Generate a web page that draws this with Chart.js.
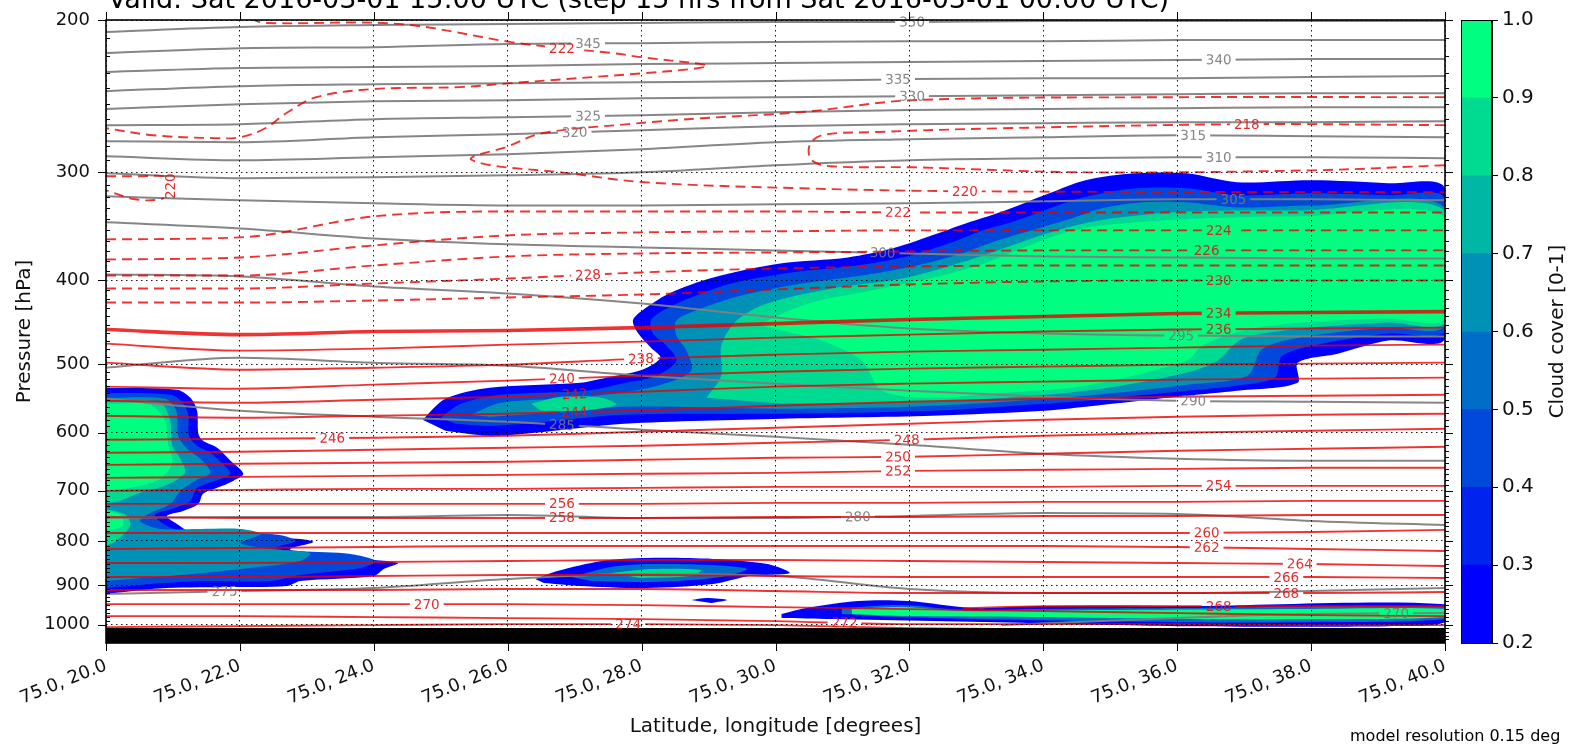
<!DOCTYPE html>
<html>
<head>
<meta charset="utf-8">
<script src="https://cdn.jsdelivr.net/npm/chart.js@4.4.1/dist/chart.umd.min.js"></script>
<style>
  body { margin: 0; background: #fff; overflow: hidden; }
  #wrap { position: relative; width: 1571px; height: 746px; }
  #main { position: absolute; left: 0; top: 0; }
  #cbar { position: absolute; left: 1461px; top: 0; }
</style>
</head>
<body>
<div id="wrap">
  <canvas id="main" width="1571" height="746"></canvas>
  <canvas id="cbar" width="110" height="746"></canvas>
</div>
<script>
// ---- axes ----
const lonStations = [20, 22, 24, 26, 28, 30, 32, 34, 36, 38, 40];
const lonTicks = [20, 22, 24, 26, 28, 30, 32, 34, 36, 38, 40];
const pTicks = [200, 300, 400, 500, 600, 700, 800, 900, 1000];
const cbTicks = [0.2, 0.3, 0.4, 0.5, 0.6, 0.7, 0.8, 0.9, 1.0];
const cbColors = ['rgb(0,0,255)', 'rgb(0,36,237)', 'rgb(0,73,219)', 'rgb(0,109,200)',
                  'rgb(0,146,182)', 'rgb(0,182,164)', 'rgb(0,219,146)', 'rgb(0,255,128)'];

// ---- potential temperature (grey), pressure at each station ----
const thetaLevels = [350, 345, 340, 335, 330, 325, 320, 315, 310, 305, 300, 295, 290, 285, 280, 275];
const thetaPressure = [
  [206.5, 203.8, 202.7, 202.1, 201.6, 201.1, 201.1, 200.5, 200.5, 200.5, 200.5],
  [218.4, 215.6, 215.0, 213.2, 212.7, 212.1, 211.6, 211.6, 211.0, 211.0, 211.0],
  [229.7, 227.3, 226.7, 226.1, 224.9, 224.3, 223.7, 223.1, 222.5, 221.9, 221.9],
  [241.7, 238.5, 237.3, 236.6, 236.0, 235.3, 234.1, 233.5, 233.5, 232.8, 232.2],
  [253.5, 250.2, 248.3, 247.6, 246.3, 245.6, 245.0, 244.3, 243.7, 243.0, 243.0],
  [264.6, 263.9, 260.4, 259.1, 257.7, 255.6, 254.2, 253.5, 252.9, 252.2, 252.2],
  [276.1, 276.9, 273.2, 271.1, 268.2, 265.3, 263.9, 263.2, 262.5, 262.5, 261.8],
  [287.5, 290.5, 288.2, 285.9, 282.1, 276.9, 274.7, 273.2, 271.8, 272.5, 273.2],
  [300.8, 304.8, 304.0, 302.4, 300.0, 294.4, 290.5, 289.0, 288.2, 288.2, 289.0],
  [319.8, 323.2, 325.8, 327.6, 327.6, 326.7, 325.8, 324.1, 322.3, 322.3, 323.2],
  [342.7, 348.3, 357.7, 363.4, 366.4, 369.3, 372.3, 375.3, 376.3, 377.3, 377.3],
  [393.7, 395.8, 406.5, 414.2, 425.4, 441.6, 454.7, 460.8, 463.3, 464.5, 464.5],
  [504.6, 491.3, 497.9, 501.9, 515.4, 526.5, 536.5, 545.2, 551.0, 552.5, 553.9],
  [548.1, 565.8, 574.9, 582.7, 595.2, 606.5, 619.6, 634.6, 643.1, 646.5, 646.5],
  [752.7, 750.7, 750.7, 746.7, 752.7, 752.7, 748.7, 742.7, 744.7, 758.7, 766.9],
  [921.8, 914.4, 907.2, 885.7, 874.0, 878.6, 909.6, 919.3, 919.3, 914.4, 907.2]
];
const thetaLabelLon = [32.04, 27.2, 36.62, 31.83, 32.04, 27.2, 27.0, 36.24, 36.62, 36.84, 31.6, 36.06, 36.24, 26.81, 31.23, 21.77];
const theta270 = [[33.38, 1001.2], [34.88, 990.6], [36.38, 980.1], [37.87, 972.3], [40, 969.7]];
const theta270Label = [39.27, 971.5];

// ---- temperature (red), pressure at each station ----
const tempLevels = [222, 224, 226, 228, 230, 234, 236, 238, 240, 242, 244, 246, 248, 250, 252, 254, 256, 258, 260, 262, 264, 266, 268, 270, 272, 274];
const tempPressure = [
  [358.6, 356.7, 337.3, 332.9, 332.9, 332.9, 333.8, 333.8, 333.8, 333.8, 333.8],
  [378.3, 376.3, 364.4, 354.8, 352.0, 351.0, 350.1, 350.1, 350.1, 350.1, 350.1],
  [394.8, 394.8, 384.4, 375.3, 372.3, 371.3, 370.3, 369.3, 369.3, 369.3, 369.3],
  [408.7, 408.7, 403.3, 398.0, 391.6, 387.5, 385.4, 384.4, 384.4, 384.4, 384.4],
  [424.3, 424.3, 422.0, 418.6, 415.3, 409.8, 404.3, 401.1, 400.1, 400.1, 400.1],
  [455.9, 462.1, 458.3, 457.1, 453.5, 448.7, 443.9, 440.4, 436.9, 435.7, 434.6],
  [473.3, 482.2, 479.6, 474.5, 470.8, 465.8, 462.1, 458.3, 455.9, 454.7, 453.5],
  [497.9, 507.3, 504.6, 500.5, 492.6, 487.4, 483.5, 481.0, 478.3, 475.8, 474.5],
  [530.7, 533.6, 527.9, 522.3, 515.4, 510.0, 505.9, 503.2, 500.5, 499.2, 497.9],
  [551.0, 553.9, 549.5, 545.2, 538.0, 530.7, 526.5, 523.7, 520.9, 519.5, 518.1],
  [573.4, 576.5, 573.4, 570.3, 565.8, 558.3, 552.5, 548.1, 545.2, 543.7, 542.3],
  [611.4, 609.7, 608.1, 604.9, 598.4, 592.1, 585.8, 579.6, 574.9, 571.9, 570.3],
  [632.9, 631.2, 627.8, 624.5, 621.2, 616.3, 611.4, 604.9, 600.0, 596.8, 593.6],
  [653.5, 651.7, 650.0, 648.2, 644.8, 641.4, 639.7, 634.6, 629.5, 626.2, 622.9],
  [676.5, 674.7, 672.9, 671.1, 669.3, 667.6, 664.0, 662.2, 660.5, 658.7, 658.7],
  [700.4, 698.5, 696.7, 696.7, 694.8, 692.9, 692.9, 692.9, 691.1, 691.1, 691.1],
  [725.1, 725.1, 725.1, 725.1, 725.1, 723.2, 723.2, 721.2, 721.2, 719.3, 719.3],
  [750.7, 752.7, 752.7, 752.7, 752.7, 750.7, 750.7, 748.7, 748.7, 746.7, 746.7],
  [783.4, 783.4, 783.4, 783.4, 783.4, 783.4, 783.4, 783.4, 783.4, 781.3, 777.1],
  [817.5, 815.3, 813.2, 811.0, 811.0, 811.0, 811.0, 811.0, 813.2, 817.5, 821.9],
  [848.7, 848.7, 846.4, 844.1, 841.9, 841.9, 844.1, 846.4, 848.7, 851.0, 855.5],
  [881.0, 881.0, 878.6, 876.3, 876.3, 878.6, 881.0, 881.0, 881.0, 881.0, 883.3],
  [912.0, 912.0, 912.0, 909.6, 909.6, 914.4, 919.3, 919.3, 919.3, 919.3, 916.8],
  [946.8, 946.8, 946.8, 946.8, 949.3, 954.3, 959.4, 964.5, 969.7, 974.9, 977.5],
  [977.5, 977.5, 980.1, 982.7, 985.3, 990.6, 998.6, 998.6, 998.6, 1001.2, 1001.2],
  [1006.6, 1003.9, 1001.2, 998.6, 998.6, 1001.2, 1009.3, 1012.0, 1014.7, 1017.4, 1017.4]
];
const tempLabelLon = [31.83, 36.62, 36.44, 27.2, 36.62, 36.62, 36.62, 27.99, 26.81, 27.0, 27.0, 23.38, 31.96,
                      31.83, 31.83, 36.62, 26.81, 26.81, 36.44, 36.44, 37.83, 37.63, 37.63, 24.79, 31.03, 27.8];

// upper isotherms that fold back on themselves: [lon, p]
const temp218 = [[40, 264.6], [37.04, 263.9], [33.38, 266.8], [31.44, 269.6], [30.69, 271.8], [30.51, 279.1],
  [30.54, 290.5], [30.84, 295.2], [32.05, 296.0], [34.63, 300.0], [38.02, 298.4], [40, 294.4]];
const temp220 = [[40, 245.6], [36.14, 245.6], [32.05, 247.6], [30.39, 255.6], [28.89, 259.8], [27.80, 263.9],
  [26.51, 270.4], [25.97, 280.6], [25.45, 289.0], [25.75, 294.4], [26.80, 300.0], [28.04, 308.0],
  [30.39, 313.0], [32.83, 315.5], [40, 316.4]];
const temp220b = [[20, 303.2], [20.51, 303.2], [20.88, 303.2], [20.97, 308.0], [20.97, 316.4], [20.81, 322.3],
  [20.43, 322.3], [20, 314.7]];
const temp222 = [[22.16, 199.5], [22.38, 201.6], [24.37, 202.1], [26.05, 212.1], [26.81, 215.6], [27.57, 218.4],
  [27.99, 220.8], [28.89, 224.9], [28.98, 226.1], [28.74, 227.9], [28.04, 230.4], [26.05, 236.6],
  [25.28, 239.1], [23.98, 240.4], [23.14, 245.6], [22.69, 256.3], [22.38, 266.8], [22.01, 273.2],
  [21.62, 273.9], [20.70, 271.8], [20, 266.8]];
const temp268b = [[32.8, 956.9], [34.0, 951.8], [36.0, 951.8], [38.0, 951.8], [40.0, 951.8]];
const foldLevels = [218, 220, 220, 222, 268];
const foldLabels = [[37.04, 263.9], [32.83, 315.5], [20.97, 311.3], [26.81, 215.6], [36.62, 951.8]];

// ---- cloud cover areas [lon, p], level = lower bound of the band ----
const bigCloud20 = [[24.73, 579.6], [25.07, 548.1], [25.73, 532.2], [27.08, 525.1], [27.47, 518.2], [28.01, 507.3],
  [28.28, 491.3], [28.14, 478.4], [27.95, 460.8], [27.87, 445.1], [28.01, 433.4], [28.41, 414.2], [29.07, 396.9],
  [30.07, 382.4], [31.08, 376.3], [31.75, 367.3], [32.43, 352.9], [32.75, 345.5], [33.43, 332.0], [34.09, 317.2],
  [34.63, 306.4], [35.37, 300.8], [36.14, 300.8], [36.89, 308.0], [38.02, 306.4], [39.15, 308.8], [40, 313.0],
  [40, 467.0], [39.15, 469.5], [38.40, 486.1], [37.80, 497.9], [37.80, 525.1], [36.89, 536.5], [36.14, 543.7],
  [34.63, 559.8], [34.01, 565.8], [32.35, 573.4], [30.09, 578.0], [27.74, 585.8], [26.41, 600.0], [25.73, 604.9],
  [25.07, 596.8]];
const bigCloud40 = [[25.0, 576.5], [25.30, 555.4], [25.90, 542.3], [27.17, 536.5], [27.69, 526.5], [28.22, 515.4],
  [28.52, 495.2], [28.37, 475.8], [28.17, 460.8], [28.14, 445.1], [28.32, 433.4], [28.74, 418.6], [29.34, 403.3],
  [30.24, 391.6], [31.21, 384.4], [31.96, 375.3], [32.63, 361.5], [33.01, 352.0], [33.61, 340.9], [34.21, 327.6],
  [34.73, 318.9], [35.40, 313.0], [36.14, 313.0], [36.89, 318.9], [38.02, 317.2], [39.15, 318.9], [40, 321.5],
  [40, 457.1], [39.15, 460.8], [38.17, 473.3], [37.57, 488.7], [37.46, 518.1], [36.89, 529.3], [36.14, 536.5],
  [34.63, 551.0], [34.01, 555.4], [32.35, 565.8], [30.09, 570.3], [27.74, 571.9], [26.41, 584.2], [25.73, 588.9],
  [25.22, 585.8]];
const bigCloud60 = [[25.45, 571.9], [25.90, 553.9], [26.80, 548.1], [27.69, 539.4], [28.29, 527.9], [28.74, 508.6],
  [28.67, 482.2], [28.52, 463.3], [28.52, 445.1], [28.89, 431.1], [29.49, 416.4], [30.39, 403.3], [31.29, 394.8],
  [32.11, 384.4], [32.78, 372.3], [33.23, 361.5], [33.83, 350.1], [34.43, 339.1], [34.88, 330.2], [35.48, 324.9],
  [36.14, 324.9], [36.89, 329.4], [38.02, 327.6], [40, 329.4], [40, 451.1], [39.15, 453.5], [38.02, 463.3],
  [37.28, 479.6], [37.05, 515.4], [36.14, 527.9], [34.63, 543.7], [32.35, 558.3], [30.09, 562.8], [27.74, 559.8],
  [26.41, 570.3], [25.73, 574.9]];
const bigCloud80 = [[28.97, 546.6], [29.19, 515.4], [29.19, 475.8], [29.42, 445.1], [29.87, 425.4], [30.84, 408.7],
  [31.89, 398.0], [32.63, 384.4], [33.23, 371.3], [33.83, 357.7], [34.43, 346.4], [35.03, 339.1], [36.14, 332.9],
  [37.87, 332.0], [40, 332.0], [40, 447.5], [39.15, 447.5], [37.87, 454.7], [36.98, 467.0], [36.60, 495.2],
  [36.14, 511.3], [34.63, 536.5], [32.35, 552.5], [30.09, 555.4]];
const bigCloud90 = [[29.79, 451.1], [29.94, 442.7], [30.54, 424.3], [31.44, 410.9], [32.49, 394.8], [33.16, 381.3],
  [33.68, 367.3], [34.28, 353.0], [34.88, 345.5], [36.14, 339.9], [37.87, 337.3], [40, 338.2], [40, 442.7],
  [39.15, 442.7], [37.87, 447.5], [36.98, 457.1], [36.38, 475.8], [36.14, 495.2], [34.63, 529.3], [33.38, 539.4],
  [32.35, 546.6], [31.59, 536.5], [31.29, 495.2], [30.69, 469.5], [30.09, 457.1]];
const tongueCloud80 = [[26.35, 555.4], [26.80, 545.2], [27.40, 546.6], [27.62, 556.8], [27.10, 565.8], [26.50, 565.8]];
const leftCloud20 = [[20, 532.2], [21.06, 535.0], [21.26, 546.6], [21.36, 565.8], [21.38, 601.6], [21.45, 613.0],
  [21.66, 624.5], [21.86, 646.5], [22.05, 669.3], [21.90, 682.0], [21.66, 694.8], [21.45, 706.0], [21.38, 725.1],
  [21.15, 738.8], [20.91, 748.7], [21.06, 764.8], [21.36, 789.7], [21.90, 793.9], [22.41, 793.9], [22.90, 796.0],
  [23.10, 802.5], [22.75, 817.5], [22.90, 826.3], [23.65, 837.4], [24.36, 848.7], [24.15, 862.3], [24.0, 878.6],
  [22.90, 890.4], [22.71, 902.3], [21.90, 904.7], [20.91, 907.2], [20.40, 914.4], [20, 921.8]];
const leftCloud40 = [[20, 539.4], [20.96, 542.3], [21.15, 553.9], [21.23, 573.4], [21.24, 604.9], [21.36, 621.2],
  [21.56, 632.9], [21.74, 651.7], [21.86, 669.3], [21.63, 682.0], [21.36, 694.8], [21.26, 719.3], [21.03, 732.9],
  [20.73, 746.7], [20.91, 768.9], [21.26, 783.4], [22.01, 783.4], [22.60, 787.6], [22.83, 800.3], [22.53, 815.3],
  [22.90, 821.9], [23.65, 828.5], [24.03, 844.1], [23.80, 860.0], [22.90, 876.3], [22.46, 890.4], [21.41, 890.4],
  [20.66, 897.5], [20, 907.2]];
const leftCloud60 = [[20, 546.6], [20.88, 548.1], [21.05, 565.8], [21.08, 604.9], [21.21, 626.2], [21.41, 643.1],
  [21.56, 667.6], [21.33, 682.0], [21.11, 700.4], [20.96, 725.1], [20.66, 742.7], [20.51, 758.7], [20.81, 775.0],
  [21.41, 775.0], [22.01, 775.0], [22.31, 785.5], [22.01, 804.6], [22.46, 817.5], [23.05, 826.3], [22.90, 844.1],
  [22.01, 862.3], [21.11, 876.3], [20.36, 885.7], [20, 890.4]];
const leftCloud80 = [[20, 551.0], [20.81, 553.9], [20.96, 581.1], [20.99, 621.2], [21.11, 643.1], [21.18, 667.6],
  [20.88, 691.1], [20.51, 704.1], [20.21, 719.3], [20, 723.2]];
const leftCloud80b = [[20, 734.9], [20.30, 746.7], [20.36, 768.9], [20.15, 800.3], [20, 811.0]];
const leftCloud90 = [[20, 555.4], [20.66, 556.8], [20.88, 581.1], [20.93, 621.2], [20.99, 650.0], [20.81, 678.4],
  [20.36, 694.8], [20, 700.4]];
const leftCloud90b = [[20, 738.8], [20.22, 746.7], [20.25, 768.9], [20, 779.2]];
const midCloud20 = [[26.41, 885.7], [26.74, 866.9], [27.41, 844.1], [28.08, 837.4], [29.07, 839.6], [29.88, 851.0],
  [30.21, 871.6], [29.61, 878.6], [29.07, 897.5], [28.08, 907.2], [27.08, 902.3], [26.54, 895.2]];
const midCloud50 = [[26.95, 881.0], [27.54, 857.7], [28.14, 851.0], [29.04, 853.2], [29.57, 862.3], [29.19, 881.0],
  [28.14, 892.8], [27.25, 890.4]];
const midCloud80 = [[27.54, 871.6], [28.14, 862.3], [28.89, 864.6], [28.74, 878.6], [27.99, 883.3]];
const blobCloud20 = [[28.74, 936.7], [28.97, 931.7], [29.28, 936.7], [29.04, 944.2]];
const lowCloud20 = [[30.09, 972.3], [30.46, 956.9], [31.23, 939.2], [31.98, 939.2], [32.96, 956.9], [33.86, 951.8],
  [36.14, 951.8], [40, 946.8], [40, 993.3], [39.15, 1003.9], [36.14, 1003.9], [33.86, 995.9], [32.35, 990.6],
  [30.84, 985.3], [30.09, 982.7]];
const lowCloud50 = [[30.99, 956.9], [31.89, 949.3], [32.78, 962.0], [33.86, 959.4], [36.14, 956.9], [40, 954.3],
  [40, 985.3], [37.87, 993.3], [36.14, 993.3], [33.86, 988.0], [31.89, 980.1], [30.99, 972.3]];
const lowCloud90 = [[31.14, 959.4], [31.89, 954.3], [32.78, 964.5], [34.88, 962.0], [37.87, 959.4], [40, 959.4],
  [40, 980.1], [37.87, 985.3], [36.14, 985.3], [33.86, 980.1], [31.89, 977.5], [31.14, 972.3]];
const cloudLayers = [
  [0.2, bigCloud20], [0.4, bigCloud40], [0.6, bigCloud60], [0.8, bigCloud80], [0.9, bigCloud90], [0.8, tongueCloud80],
  [0.2, leftCloud20], [0.4, leftCloud40], [0.6, leftCloud60], [0.8, leftCloud80], [0.8, leftCloud80b],
  [0.9, leftCloud90], [0.9, leftCloud90b],
  [0.2, midCloud20], [0.5, midCloud50], [0.8, midCloud80], [0.2, blobCloud20],
  [0.2, lowCloud20], [0.5, lowCloud50], [0.9, lowCloud90]
];
const groundShape = [[20, 1009], [40, 1009], [40, 1050], [20, 1050]];

const titleText = 'Valid: Sat 2016-03-01 15:00 UTC (step 15 hrs from Sat 2016-03-01 00:00 UTC)';
const footText = 'model resolution 0.15 deg';

// ---- helpers ----
const FONT = 'DejaVu Sans';
const labelFont = '13.5px "DejaVu Sans"';
const redLine = 'rgba(235,0,0,0.8)';
const redText = 'rgba(225,20,20,0.9)';
const greyLine = 'rgba(128,128,128,0.95)';
const greyText = 'rgba(120,120,120,0.9)';

Chart.defaults.font.family = FONT;
Chart.defaults.color = '#111';

function pts(pairs) { return pairs.map(q => ({x: q[0], y: q[1]})); }
function stationPts(pr) { return pr.map((p, i) => ({x: lonStations[i], y: p})); }
function pAt(pr, lon) {
  const i = Math.max(0, Math.min(9, Math.floor((lon - 20) / 2)));
  const t = (lon - lonStations[i]) / 2;
  return Math.exp(Math.log(pr[i]) * (1 - t) + Math.log(pr[i + 1]) * t);
}
function cloudColor(level) { return cbColors[Math.round((level - 0.2) * 10)]; }

function contour(points, color, width, dash, label, mono) {
  return {
    data: points, showLine: true, pointRadius: 0, fill: false,
    borderColor: color, borderWidth: width, borderDash: dash,
    tension: mono ? 0 : 0.35, cubicInterpolationMode: mono ? 'monotone' : 'default',
    contourLabel: label
  };
}

const datasets = [];
cloudLayers.forEach(([lev, shape]) => datasets.push({
  data: pts(shape), showLine: true, pointRadius: 0, fill: 'shape', tension: 0.3,
  backgroundColor: cloudColor(lev), borderColor: 'transparent', borderWidth: 0
}));
thetaLevels.forEach((lev, i) => {
  const pr = thetaPressure[i];
  datasets.push(contour(stationPts(pr), greyLine, 2, [],
    {text: String(lev), lon: thetaLabelLon[i], p: pAt(pr, thetaLabelLon[i]), series: pr, color: greyText}, true));
});
datasets.push(contour(pts(theta270), greyLine, 2, [],
  {text: '270', lon: theta270Label[0], p: theta270Label[1], color: greyText}, false));
tempLevels.forEach((lev, i) => {
  const pr = tempPressure[i];
  datasets.push(contour(stationPts(pr), redLine, lev === 234 ? 3.6 : 1.9, lev <= 230 ? [10, 6] : [],
    {text: String(lev), lon: tempLabelLon[i], p: pAt(pr, tempLabelLon[i]), series: pr, color: redText}, true));
});
[temp218, temp220, temp220b, temp222, temp268b].forEach((line, i) => {
  const lev = foldLevels[i];
  datasets.push(contour(pts(line), redLine, 1.9, lev <= 230 ? [10, 6] : [],
    {text: String(lev), lon: foldLabels[i][0], p: foldLabels[i][1], rot: line === temp220b ? -Math.PI / 2 : 0, color: redText}, false));
});
datasets.push({
  data: pts(groundShape), showLine: true, pointRadius: 0, fill: 'shape', tension: 0,
  backgroundColor: '#000', borderColor: 'transparent', borderWidth: 0
});
// first entry drawn at the bottom
datasets.forEach((d, i) => { d.order = datasets.length - i; });

function labelGeom(chart, lab) {
  const xs = chart.scales.x, ys = chart.scales.y, ctx = chart.ctx;
  const cx = xs.getPixelForValue(lab.lon), cy = ys.getPixelForValue(lab.p);
  let rot = lab.rot || 0;
  if (lab.series) {
    const x1 = xs.getPixelForValue(lab.lon - 0.3), x2 = xs.getPixelForValue(lab.lon + 0.3);
    const y1 = ys.getPixelForValue(pAt(lab.series, lab.lon - 0.3));
    const y2 = ys.getPixelForValue(pAt(lab.series, lab.lon + 0.3));
    rot = Math.atan2(y2 - y1, x2 - x1);
  }
  ctx.save();
  ctx.font = labelFont;
  const w = ctx.measureText(lab.text).width;
  ctx.restore();
  return {cx, cy, rot, w};
}

const contourPlugin = {
  id: 'contourLabels',
  beforeDatasetDraw(chart, args) {
    const lab = chart.data.datasets[args.index].contourLabel;
    if (!lab) return;
    const ctx = chart.ctx, a = chart.chartArea, g = labelGeom(chart, lab);
    const hw = g.w / 2 + 4, hh = 7, c = Math.cos(g.rot), s = Math.sin(g.rot);
    const corners = [[-hw, -hh], [hw, -hh], [hw, hh], [-hw, hh]]
      .map(([u, v]) => [g.cx + u * c - v * s, g.cy + u * s + v * c]);
    ctx.save();
    ctx.beginPath();
    ctx.rect(a.left - 10, a.top - 10, a.width + 20, a.height + 20);
    ctx.moveTo(corners[0][0], corners[0][1]);
    for (let k = 1; k < 4; k++) ctx.lineTo(corners[k][0], corners[k][1]);
    ctx.closePath();
    ctx.clip('evenodd');
  },
  afterDatasetDraw(chart, args) {
    if (chart.data.datasets[args.index].contourLabel) chart.ctx.restore();
  },
  afterDraw(chart) {
    const ctx = chart.ctx, a = chart.chartArea, xs = chart.scales.x, ys = chart.scales.y;
    // inline contour labels
    chart.data.datasets.forEach(d => {
      const lab = d.contourLabel;
      if (!lab) return;
      const g = labelGeom(chart, lab);
      ctx.save();
      ctx.translate(g.cx, g.cy);
      ctx.rotate(g.rot);
      ctx.font = labelFont;
      ctx.fillStyle = lab.color;
      ctx.textAlign = 'center';
      ctx.textBaseline = 'middle';
      ctx.fillText(lab.text, 0, 1);
      ctx.restore();
    });
    // frame and tick marks
    ctx.save();
    ctx.strokeStyle = '#000';
    ctx.lineWidth = 1;
    ctx.beginPath();
    pTicks.forEach(v => {
      const y = Math.round(ys.getPixelForValue(v)) + 0.5;
      ctx.moveTo(a.left - 8, y); ctx.lineTo(a.left, y);
      ctx.moveTo(a.right, y); ctx.lineTo(a.right + 8, y);
    });
    for (let v = 210; v <= 1040; v += 10) {
      if (v % 100 === 0) continue;
      const y = Math.round(ys.getPixelForValue(v)) + 0.5;
      ctx.moveTo(a.left, y); ctx.lineTo(a.left + 4, y);
      ctx.moveTo(a.right, y); ctx.lineTo(a.right + 4, y);
    }
    lonTicks.forEach(v => {
      const x = Math.round(xs.getPixelForValue(v)) + 0.5;
      ctx.moveTo(x, a.bottom); ctx.lineTo(x, a.bottom + 8);
      ctx.moveTo(x, a.top - 8); ctx.lineTo(x, a.top);
    });
    ctx.stroke();
    ctx.lineWidth = 1.6;
    ctx.strokeRect(a.left, a.top, a.right - a.left, a.bottom - a.top);
    // title (partly above the page) and footnote
    ctx.fillStyle = '#000';
    ctx.font = '27px "DejaVu Sans"';
    ctx.textBaseline = 'alphabetic';
    ctx.fillText(titleText, 108, 8);
    ctx.font = '16px "DejaVu Sans"';
    ctx.fillText(footText, 1350, 741);
    ctx.restore();
  }
};

new Chart(document.getElementById('main'), {
  type: 'scatter',
  data: {datasets},
  options: {
    responsive: false, animation: false, events: [],
    layout: {padding: {left: 0, right: 126, top: 20, bottom: 0}},
    plugins: {legend: {display: false}, tooltip: {enabled: false}},
    scales: {
      x: {
        type: 'linear', min: 20, max: 40,
        afterBuildTicks: s => { s.ticks = lonTicks.map(v => ({value: v})); },
        afterFit: s => { s.height = 103; s.paddingLeft = 0; s.paddingRight = 0; },
        ticks: {callback: v => '75.0, ' + v.toFixed(1), minRotation: 22, maxRotation: 22, autoSkip: false,
                font: {size: 18}, color: '#111', padding: 12},
        grid: {color: 'rgba(0,0,0,0.9)', lineWidth: 1, drawTicks: false, z: 1},
        border: {display: false, dash: [1.5, 3.5]},
        title: {display: true, text: 'Latitude, longitude [degrees]', font: {size: 20}, color: '#111',
                padding: {top: 0, bottom: 7}}
      },
      y: {
        type: 'logarithmic', reverse: true, min: 200, max: 1050,
        afterBuildTicks: s => { s.ticks = pTicks.map(v => ({value: v})); },
        afterFit: s => { s.width = 106; s.paddingTop = 0; s.paddingBottom = 0; },
        ticks: {callback: v => String(v), font: {size: 18}, color: '#111', padding: 16},
        grid: {color: 'rgba(0,0,0,0.9)', lineWidth: 1, drawTicks: false, z: 1},
        border: {display: false, dash: [1.5, 3.5]},
        title: {display: true, text: 'Pressure [hPa]', font: {size: 20}, color: '#111',
                padding: {top: 13, bottom: 0}}
      }
    }
  },
  plugins: [contourPlugin]
});

// ---- colour bar ----
const cbarPlugin = {
  id: 'cbarFrame',
  afterDraw(chart) {
    const ctx = chart.ctx, a = chart.chartArea;
    ctx.save();
    ctx.strokeStyle = '#000';
    ctx.lineWidth = 1;
    ctx.strokeRect(a.left + 0.5, a.top + 0.5, a.right - a.left - 1, a.bottom - a.top);
    ctx.translate(97, (a.top + a.bottom) / 2);
    ctx.rotate(-Math.PI / 2);
    ctx.font = '20px "DejaVu Sans"';
    ctx.fillStyle = '#111';
    ctx.textAlign = 'center';
    ctx.textBaseline = 'middle';
    ctx.fillText('Cloud cover [0-1]', 0, 0);
    ctx.restore();
  }
};

new Chart(document.getElementById('cbar'), {
  type: 'bar',
  data: {
    labels: ['cloud cover'],
    datasets: cbColors.map((c, i) => ({
      data: [[cbTicks[i], cbTicks[i + 1]]], backgroundColor: c, borderWidth: 0,
      barPercentage: 1, categoryPercentage: 1
    }))
  },
  options: {
    responsive: false, animation: false, events: [],
    layout: {padding: {left: 0, right: 0, top: 20, bottom: 103}},
    plugins: {legend: {display: false}, tooltip: {enabled: false}},
    scales: {
      x: {display: false, stacked: true},
      y: {
        position: 'right', min: 0.2, max: 1.0,
        afterBuildTicks: s => { s.ticks = cbTicks.map(v => ({value: v})); },
        afterFit: s => { s.width = 79; s.paddingTop = 0; s.paddingBottom = 0; },
        ticks: {callback: v => v.toFixed(1), font: {size: 20}, color: '#111', padding: 4},
        grid: {drawOnChartArea: false, drawTicks: true, tickLength: 6, color: '#000', lineWidth: 1},
        border: {display: true, color: '#000'}
      }
    }
  },
  plugins: [cbarPlugin]
});
</script>
</body>
</html>
